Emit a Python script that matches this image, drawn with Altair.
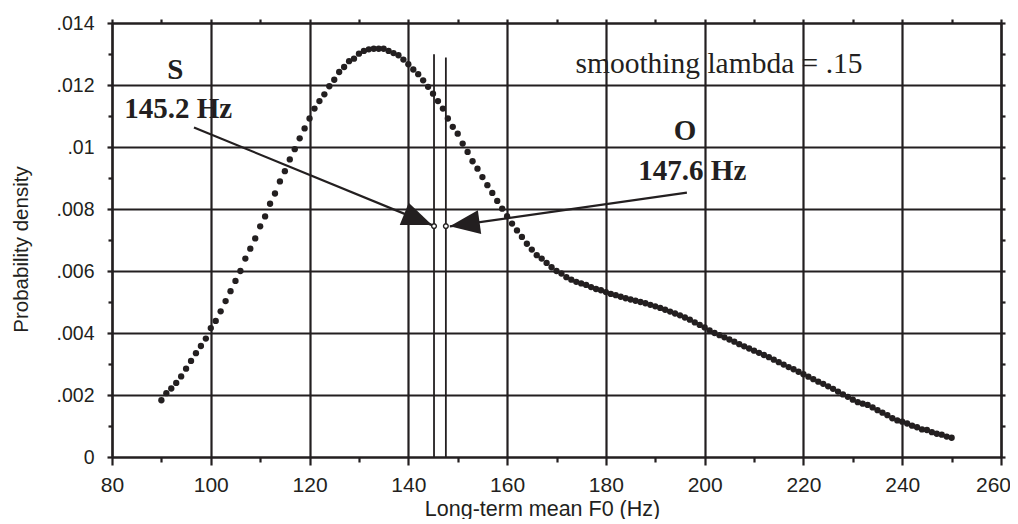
import altair as alt
import pandas as pd

# ---------------- data ----------------
f0_hz = list(range(90, 251))
density = [
    0.00183, 0.00206, 0.00221, 0.00239, 0.00260, 0.00285, 0.00310, 0.00335, 0.00358, 0.00382,
    0.00416, 0.00439, 0.00470, 0.00503, 0.00535, 0.00568, 0.00600, 0.00640, 0.00672, 0.00705,
    0.00744, 0.00776, 0.00817, 0.00850, 0.00889, 0.00922, 0.00960, 0.00993, 0.01028, 0.01060,
    0.01092, 0.01124, 0.01148, 0.01170, 0.01196, 0.01217, 0.01242, 0.01258, 0.01277, 0.01285,
    0.01301, 0.01310, 0.01315, 0.01317, 0.01317, 0.01317, 0.01310, 0.01303, 0.01296, 0.01282,
    0.01267, 0.01250, 0.01235, 0.01215, 0.01194, 0.01172, 0.01148, 0.01124, 0.01092, 0.01065,
    0.01043, 0.01011, 0.00984, 0.00954, 0.00930, 0.00903, 0.00877, 0.00852, 0.00826, 0.00801,
    0.00777, 0.00753, 0.00731, 0.00710, 0.00688, 0.00669, 0.00651, 0.00640, 0.00626, 0.00612,
    0.00600, 0.00592, 0.00580, 0.00572, 0.00565, 0.00560, 0.00555, 0.00548, 0.00542, 0.00538,
    0.00532, 0.00526, 0.00522, 0.00517, 0.00512, 0.00508, 0.00504, 0.00500, 0.00496, 0.00491,
    0.00486, 0.00481, 0.00475, 0.00469, 0.00463, 0.00457, 0.00450, 0.00443, 0.00434, 0.00426,
    0.00418, 0.00408, 0.00400, 0.00393, 0.00386, 0.00379, 0.00372, 0.00364, 0.00357, 0.00350,
    0.00343, 0.00336, 0.00329, 0.00322, 0.00314, 0.00306, 0.00298, 0.00290, 0.00283, 0.00275,
    0.00267, 0.00259, 0.00251, 0.00243, 0.00236, 0.00228, 0.00220, 0.00211, 0.00202, 0.00194,
    0.00185, 0.00177, 0.00172, 0.00168, 0.00160, 0.00151, 0.00143, 0.00135, 0.00125, 0.00118,
    0.00114, 0.00108, 0.00101, 0.00096, 0.00089, 0.00087, 0.00080, 0.00075, 0.00072, 0.00066,
    0.00062,
]

x_major = [80, 100, 120, 140, 160, 180, 200, 220, 240, 260]
x_minor = [90, 110, 130, 150, 170, 190, 210, 230, 250]
y_major = [0, 0.002, 0.004, 0.006, 0.008, 0.010, 0.012, 0.014]
y_major_labels = ["0", ".002", ".004", ".006", ".008", ".01", ".012", ".014"]
y_minor = [0.001, 0.003, 0.005, 0.007, 0.009, 0.011, 0.013]

# marker lines (S and O means)
marker_hz = [145.2, 147.6]
marker_top = [0.01299, 0.01289]
marker_pt = [0.00745, 0.00745]

# arrows (data coordinates)
arrow_x0 = [96.6, 196.4]
arrow_y0 = [0.01063, 0.00853]
arrow_x1 = [144.8, 148.4]
arrow_y1 = [0.00748, 0.00744]
arrow_angle = [22, 172]

# annotation texts
ann_text = ["S", "145.2 Hz", "O", "147.6 Hz", "smoothing lambda = .15"]
ann_x = [92.8, 93.4, 196.0, 197.5, 202.9]
ann_y = [0.01218, 0.01092, 0.01021, 0.008926, 0.012394]
ann_weight = ["bold", "bold", "bold", "bold", "normal"]

# ---------------- chart ----------------
ink = "#231f20"
sans = "Liberation Sans"
serif = "Liberation Serif"
LW = 2.2

xs = alt.Scale(domain=[80, 260], nice=False, zero=False)
ys = alt.Scale(domain=[0, 0.014], nice=False, zero=True)

label_expr = " : ".join(
    f"abs(datum.value - {v}) < 1e-9 ? '{l}'" for v, l in zip(y_major, y_major_labels)
) + " : ''"


def bare_axis(orient, values, tick_size, domain):
    return alt.Axis(
        orient=orient, values=values, labels=False, grid=False, title=None,
        domain=domain, domainColor=ink, domainWidth=LW,
        ticks=True, tickSize=tick_size, tickColor=ink, tickWidth=LW,
    )


curve_df = pd.DataFrame({"f0": f0_hz, "density": density})

dots = alt.Chart(curve_df).mark_circle(size=40, color=ink, opacity=1).encode(
    x=alt.X("f0:Q", scale=xs, axis=alt.Axis(
        orient="bottom", values=x_major, grid=True, gridColor=ink, gridWidth=LW, gridOpacity=1,
        domain=True, domainColor=ink, domainWidth=LW,
        ticks=True, tickSize=8, tickColor=ink, tickWidth=LW,
        labelFont=sans, labelFontSize=21, labelColor=ink, labelPadding=9,
        labelFlush=False, labelOverlap=False, format="d",
        labelOffset={"condition": {"test": f"datum.value == {x_major[-1]}", "value": -8}, "value": 0},
        title="Long-term mean F0 (Hz)", titleFont=sans, titleFontSize=21.5,
        titleFontWeight="normal", titleColor=ink, titleX=430, titleY=58,
        titleBaseline="alphabetic", titleAlign="center",
    )),
    y=alt.Y("density:Q", scale=ys, axis=alt.Axis(
        orient="left", values=y_major, grid=True, gridColor=ink, gridWidth=LW, gridOpacity=1,
        domain=True, domainColor=ink, domainWidth=LW,
        ticks=True, tickSize=5, tickColor=ink, tickWidth=LW,
        labelFont=sans, labelFontSize=19.5, labelColor=ink, labelPadding=13,
        labelFlush=False, labelOverlap=False, labelExpr=label_expr,
        title="Probability density", titleFont=sans, titleFontSize=20.5,
        titleFontWeight="normal", titleColor=ink, titleX=-85, titleY=226,
        titleBaseline="alphabetic", titleAlign="center",
    )),
)

marker_df = pd.DataFrame({"hz": marker_hz, "top": marker_top, "pt": marker_pt})

marker_lines = alt.Chart(marker_df).mark_rule(color=ink, strokeWidth=1.8).encode(
    x=alt.X("hz:Q", scale=xs, axis=bare_axis("bottom", x_minor, 5, False)),
    y=alt.Y("top:Q", scale=ys, axis=bare_axis("left", y_minor, 4, False)),
    y2=alt.datum(0),
)

marker_pts = alt.Chart(marker_df).mark_point(
    shape="circle", size=22, fill="white", fillOpacity=1, stroke=ink, strokeWidth=1.4, opacity=1
).encode(
    x=alt.X("hz:Q", scale=xs, axis=bare_axis("top", sorted(x_major + x_minor), 4, True)),
    y=alt.Y("pt:Q", scale=ys, axis=bare_axis("right", sorted(y_major + y_minor), 4, True)),
)

arrow_df = pd.DataFrame({
    "x0": arrow_x0, "y0": arrow_y0, "x1": arrow_x1, "y1": arrow_y1, "ang": arrow_angle,
})

arrow_lines = alt.Chart(arrow_df).mark_rule(color=ink, strokeWidth=2.2).encode(
    x=alt.X("x0:Q", scale=xs, axis=None),
    y=alt.Y("y0:Q", scale=ys, axis=None),
    x2="x1:Q",
    y2="y1:Q",
)

arrow_heads = alt.Chart(arrow_df).mark_point(
    shape="M0,0L-1,-0.4L-1,0.4Z", size=3600, filled=True, color=ink, opacity=1, strokeWidth=0
).encode(
    x=alt.X("x1:Q", scale=xs, axis=None),
    y=alt.Y("y1:Q", scale=ys, axis=None),
    angle=alt.Angle("ang:Q", scale=None),
)

ann_df = pd.DataFrame({"t": ann_text, "x": ann_x, "y": ann_y, "w": ann_weight})

ann_bold = alt.Chart(ann_df[ann_df.w == "bold"]).mark_text(
    font=serif, fontSize=29, fontWeight="bold", color=ink, align="center", baseline="alphabetic"
).encode(
    x=alt.X("x:Q", scale=xs, axis=None),
    y=alt.Y("y:Q", scale=ys, axis=None),
    text="t:N",
)

ann_plain = alt.Chart(ann_df[ann_df.w == "normal"]).mark_text(
    font=serif, fontSize=29.5, fontWeight="normal", color=ink, align="center", baseline="alphabetic"
).encode(
    x=alt.X("x:Q", scale=xs, axis=None),
    y=alt.Y("y:Q", scale=ys, axis=None),
    text="t:N",
)

chart = alt.layer(
    dots, marker_lines, marker_pts, arrow_lines, arrow_heads, ann_bold, ann_plain
).resolve_axis(
    x="independent", y="independent"
).properties(
    width=889, height=434,
    autosize=alt.AutoSizeParams(type="none"),
    padding={"left": 104, "top": 15, "right": 9, "bottom": 62},
    background="white",
).configure_view(stroke=None)

chart.save("out.html", embed_options={"renderer": "svg", "actions": False})
